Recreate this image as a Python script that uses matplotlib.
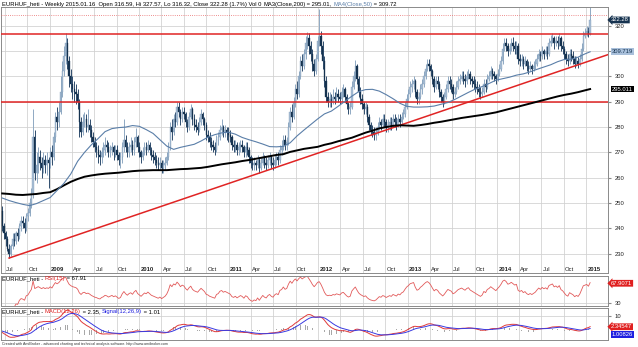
import numpy as np
import pandas as pd
import matplotlib
matplotlib.use("Agg")
import matplotlib.pyplot as plt
import matplotlib.dates as mdates
import matplotlib.transforms as mtransforms

plt.rcParams['font.family'] = ['Liberation Sans', 'DejaVu Sans']

W, H = 638, 347

# weekly EURHUF bars, first bar = week ending 2008-06-20, last = 2015-01-16
first_week = "2008-06-20"

opens = [
    247, 241, 238, 236, 232, 230, 233, 236, 235, 238, 237, 241, 243, 242, 240, 245, 246, 250, 254, 276, 262, 265, 268, 266, 264, 267, 265, 267,  # 2008
    266, 270, 268, 276, 284, 282, 286, 294, 302, 308, 313, 306, 300, 297, 295, 294, 293, 290, 282, 278, 282, 283, 280, 281, 279, 276,
    274, 272, 271, 269, 268, 270, 271, 273, 272, 270, 271, 272, 270, 271, 269, 267, 268, 272, 275, 272, 270, 272, 273, 271, 274, 276,  # 2009
    272, 270, 268, 270, 272, 271, 273, 271, 269, 268, 267, 266, 265, 266, 264, 265, 266, 268, 272, 280, 278, 283, 282, 288, 286, 283,
    286, 285, 282, 280, 284, 287, 283, 281, 280, 279, 282, 285, 283, 281, 277, 276, 274, 273, 272, 271, 275, 276, 279, 280, 278, 279, 278,  # 2010
    277, 276, 273, 272, 273, 271, 272, 273, 272, 270, 272, 271, 268, 266, 265, 266, 265, 267, 264, 266, 268, 266, 265, 267, 268, 266,
    265, 267, 268, 267, 271, 272, 275, 273, 274, 280, 286, 284, 290, 295, 293, 300, 306, 304, 309, 313, 315, 312, 309, 305, 302, 307,  # 2011
    314, 316, 312, 306, 298, 292, 290, 291, 290, 292, 291, 293, 292, 291, 294, 295, 292, 289, 287, 288, 296, 300, 304, 299, 294, 291,
    289, 287, 288, 284, 281, 279, 278, 277, 278, 280, 282, 281, 283, 282, 280, 281, 282, 281, 283, 282, 281, 283, 282, 284, 285, 288,  # 2012
    291, 293, 296, 297, 298, 294, 291, 292, 295, 297, 300, 303, 305, 304, 302, 299, 296, 298, 297, 294, 292, 290, 292, 295, 298, 297,
    296, 293, 294, 296, 298, 299, 300, 299, 298, 300, 301, 299, 298, 297, 296, 295, 294, 293, 294, 297, 296, 299, 300, 302, 301, 300,  # 2013
    299, 301, 303, 306, 311, 313, 312, 310, 311, 313, 312, 311, 312, 307, 306, 307, 305, 306, 304, 303, 304, 303, 304, 305, 307, 309,
    308, 310, 309, 310, 309, 313, 314, 315, 313, 314, 313, 315, 312, 311, 309, 307, 306, 309, 308, 307, 305, 306, 305, 307, 311, 316,  # 2014
    317, 318, 316.59,  # 2015
]
highs = [
    249, 242, 239, 237, 234, 234, 238, 238, 239, 240, 242, 245, 245, 244, 246, 248, 252, 256, 287, 279, 270, 272, 271, 268, 270, 269, 270, 268,
    272, 273, 278, 286, 288, 290, 300, 306, 312, 317.2, 315, 308, 303, 300, 298, 297, 295, 291, 284, 285, 286, 285, 287, 283, 281, 278,
    276, 274, 273, 271, 272, 274, 276, 275, 274, 273, 274, 273, 273, 273, 270, 270, 274, 283, 277, 274, 274, 276, 275, 276, 279.5, 277,
    274, 271, 272, 274, 274, 275, 274, 272, 271, 270, 269, 268, 268, 267, 267, 268, 270, 274, 282, 283, 285, 286, 290, 290, 287, 288,
    288, 286, 283, 286, 289, 288, 285, 283, 282, 284, 287, 286, 284, 282, 279, 278, 276, 275, 274, 277, 278, 281, 283, 281, 281, 280, 280,
    279, 277, 275, 275, 274, 274, 275, 275, 273, 274, 274, 272, 269, 268, 268, 267, 269, 268, 268, 270, 269, 268, 269, 270, 269, 268,
    269, 270, 270, 273, 275, 277, 277, 276, 282, 288, 289, 292, 297, 298, 302, 308, 309, 311, 316, 317.5, 317, 314, 311, 307, 309, 316,
    326.5, 318, 314, 308, 300, 294, 294, 293, 295, 294, 296, 295, 294, 296, 297, 296, 293, 290, 290, 298, 302, 306.5, 305, 300, 296, 293,
    290, 290, 289, 285, 282, 281, 280, 280, 282, 284, 283, 285, 285, 283, 283, 284, 284, 285, 285, 284, 285, 285, 286, 287, 290, 293,
    295, 298, 299, 300, 299, 295, 294, 297, 299, 302, 305, 307, 307, 305, 303, 300, 300, 300, 298, 295, 293, 294, 297, 300, 300, 299,
    297, 296, 298, 300, 301, 302, 302, 301, 302, 303, 302, 300, 300, 299, 298, 297, 296, 296, 299, 299, 301, 302, 304, 303.5, 302, 301,
    303, 305, 308, 313, 315, 315, 313, 313, 315, 315.5, 314, 314, 313, 309, 309, 308, 308, 307, 306, 306, 305, 306, 307, 309, 311, 310,
    312, 311, 312, 312, 315, 316.5, 317, 316, 316, 316, 317, 316, 314, 312, 310, 309, 311, 311, 310, 308, 308, 307.5, 309, 313, 318, 319,
    320, 319.5, 327.57,
]
lows = [
    239, 236, 233, 231, 228.3, 229, 232, 233, 234, 235, 236, 239, 240, 238, 239, 243, 245, 248, 252, 259, 258, 262, 263, 260, 262, 262, 261, 256,
    264, 265, 267, 274, 279, 280, 285, 292, 300, 305, 303, 296, 294, 291, 290, 289, 287, 276, 276, 277, 280, 278, 278, 276, 274, 272,
    270, 268, 266, 265, 266, 268, 269, 270, 268, 268, 269, 267, 268, 267, 265, 264, 266, 270, 270, 268, 268, 270, 269, 269, 272, 270,
    268, 266, 267, 269, 269, 270, 269, 267, 266, 265, 264, 263, 263, 262, 262, 263, 265, 267, 271, 275, 277, 280, 281, 284, 281, 282,
    283, 280, 278, 279, 283, 281, 279, 278, 277, 278, 281, 281, 279, 275, 274, 272, 271, 270, 269, 270, 273, 275, 277, 276, 276, 275, 274,
    274, 271, 270, 270, 269, 269, 270, 270, 268, 268, 269, 266, 264, 263, 263, 263, 264, 262, 263, 265, 264, 263, 264, 265, 264, 263,
    264, 265, 265, 266, 269, 271, 271, 271, 273, 279, 282, 283, 288, 291, 292, 299, 302, 303, 307, 311, 309, 306, 302, 300, 301, 306,
    312, 309, 303, 296, 290, 288, 288, 288, 289, 289, 290, 290, 289, 290, 292, 290, 287, 285, 285, 287, 295, 298, 297, 292, 289, 287,
    285, 285, 282, 279, 277, 276, 275, 275, 277, 279, 279, 280, 280, 278, 278, 279, 279, 280, 280, 279, 280, 280, 281, 283, 284, 287,
    290, 292, 294, 295, 292, 289, 289, 291, 293, 296, 299, 302, 302, 300, 297, 294, 295, 295, 292, 290, 288, 289, 291, 294, 295, 294,
    291, 292, 293, 295, 297, 298, 297, 296, 297, 299, 297, 296, 295, 294, 293, 292, 291, 292, 293, 294, 295, 298, 299, 299, 298, 297,
    298, 300, 302, 305, 310, 310, 308, 309, 310, 310, 309, 309, 305, 304, 304, 303, 304, 302, 301, 302, 301, 302, 303, 304, 306, 306,
    307, 307, 308, 307, 308, 312, 313, 311, 312, 311, 312, 310, 309, 307, 305, 304, 305, 306, 305, 303.5, 304, 303.5, 304, 306, 310, 315,
    316, 315.5, 316.32,
]
closes = [
    241, 238, 236, 232, 230, 233, 236, 235, 238, 237, 241, 243, 242, 240, 245, 246, 250, 254, 276, 262, 265, 268, 266, 264, 267, 265, 267, 266,
    270, 268, 276, 284, 282, 286, 294, 302, 308, 313, 306, 300, 297, 295, 294, 293, 290, 282, 278, 282, 283, 280, 281, 279, 276, 274,
    272, 271, 269, 268, 270, 271, 273, 272, 270, 271, 272, 270, 271, 269, 267, 268, 272, 275, 272, 270, 272, 273, 271, 274, 276, 272,
    270, 268, 270, 272, 271, 273, 271, 269, 268, 267, 266, 265, 266, 264, 265, 266, 268, 272, 280, 278, 283, 282, 288, 286, 283, 286,
    285, 282, 280, 284, 287, 283, 281, 280, 279, 282, 285, 283, 281, 277, 276, 274, 273, 272, 271, 275, 276, 279, 280, 278, 279, 278, 277,
    276, 273, 272, 273, 271, 272, 273, 272, 270, 272, 271, 268, 266, 265, 266, 265, 267, 264, 266, 268, 266, 265, 267, 268, 266, 265,
    267, 268, 267, 271, 272, 275, 273, 274, 280, 286, 284, 290, 295, 293, 300, 306, 304, 309, 313, 315, 312, 309, 305, 302, 307, 314,
    316, 312, 306, 298, 292, 290, 291, 290, 292, 291, 293, 292, 291, 294, 295, 292, 289, 287, 288, 296, 300, 304, 299, 294, 291, 289,
    287, 288, 284, 281, 279, 278, 277, 278, 280, 282, 281, 283, 282, 280, 281, 282, 281, 283, 282, 281, 283, 282, 284, 285, 288, 291,
    293, 296, 297, 298, 294, 291, 292, 295, 297, 300, 303, 305, 304, 302, 299, 296, 298, 297, 294, 292, 290, 292, 295, 298, 297, 296,
    293, 294, 296, 298, 299, 300, 299, 298, 300, 301, 299, 298, 297, 296, 295, 294, 293, 294, 297, 296, 299, 300, 302, 301, 300, 299,
    301, 303, 306, 311, 313, 312, 310, 311, 313, 312, 311, 312, 307, 306, 307, 305, 306, 304, 303, 304, 303, 304, 305, 307, 309, 308,
    310, 309, 310, 309, 313, 314, 315, 313, 314, 313, 315, 312, 311, 309, 307, 306, 309, 308, 307, 305, 306, 305, 307, 311, 316, 317,
    318, 316.59, 322.28,
]
# a few closes before the first bar (May-June 2008), only used to start RSI / MACD
warmup_closes = [253, 251, 254, 250, 248, 251, 249, 247]

# moving averages every 4th week (plus the last week)
ma_weeks = list(range(0, 344, 4)) + [343]
ma200 = [
    253.8, 253.6, 253.3, 253.2, 253.4, 253.6, 254.0, 254.3, 255.5, 257.0,
    258.4, 259.5, 260.4, 260.9, 261.3, 261.6, 261.8, 262.0, 262.3, 262.6,
    262.8, 262.9, 263.0, 263.0, 263.0, 263.2, 263.4, 263.5, 263.7, 263.9,
    264.3, 264.8, 265.3, 265.7, 266.1, 266.6, 267.0, 267.5, 268.0, 268.5,
    269.0, 269.3, 270.2, 270.8, 271.4, 271.8, 272.2, 273.0, 273.6, 274.4,
    275.1, 275.8, 276.8, 277.8, 278.6, 279.5, 280.0, 280.5, 280.7, 280.6,
    280.5, 280.8, 281.2, 281.7, 282.1, 282.6, 283.1, 283.6, 284.0, 284.4,
    284.8, 285.3, 285.8, 286.5, 287.2, 287.9, 288.6, 289.3, 290.0, 290.7,
    291.4, 292.1, 292.7, 293.2, 293.8, 294.5, 295.01,
]
ma50 = [
    252.0, 251.0, 250.2, 249.5, 249.0, 249.8, 251.0, 252.2, 255.0, 257.8,
    261.5, 266.5, 270.0, 273.0, 275.5, 278.2, 279.4, 279.8, 280.0, 280.6,
    280.3, 279.0, 277.5, 275.0, 272.5, 271.2, 272.0, 272.6, 273.2, 274.5,
    276.0, 277.0, 277.7, 278.0, 277.2, 275.9, 275.0, 274.2, 273.3, 272.3,
    272.2, 272.4, 273.8, 276.5, 278.8, 281.0, 283.2, 285.2, 286.3, 288.2,
    290.2, 292.2, 294.0, 294.8, 294.9, 294.2, 292.8, 291.2, 289.4, 288.2,
    287.9, 287.9, 288.0, 288.3, 289.0, 289.7, 290.9, 292.3, 293.7, 295.0,
    296.0, 297.2, 298.5, 299.1, 299.7, 300.5, 301.0, 301.8, 302.8, 303.7,
    304.6, 305.8, 306.7, 306.8, 307.6, 308.9, 309.72,
]

# hand-drawn lines on the chart
levels = [289.8, 316.7]
dotted_level = 324.2
trend_dates = ["2008-07-18", "2015-03-30"]
trend_prices = [228.3, 308.6]

RED = '#e02424'
NAVY = '#15324f'
STEEL = '#5a7ea8'
GRID = '#d0d0d0'
FRAME = '#8a8a8a'
FS = 4.2

weeks = pd.date_range(first_week, periods=len(closes), freq="7D")
xd = mdates.date2num(weeks)
o, h, l, c = (np.array(v, dtype=float) for v in (opens, highs, lows, closes))
up = c >= o

# indicators from the closes
s = pd.Series(warmup_closes + closes, dtype=float)
d = s.diff()
ag = d.clip(lower=0).ewm(alpha=1 / 15, adjust=False).mean()
al = (-d.clip(upper=0)).ewm(alpha=1 / 15, adjust=False).mean()
rsi = (100 - 100 / (1 + ag / al)).values[len(warmup_closes):]
macd = s.ewm(span=12, adjust=False).mean() - s.ewm(span=26, adjust=False).mean()
signal = macd.ewm(span=9, adjust=False).mean()
macd = macd.values[len(warmup_closes):]
signal = signal.values[len(warmup_closes):]


def pane(fig, top, bottom, left=1, right=608):
    a = fig.add_axes([left / W, 1 - bottom / H, (right - left) / W, (bottom - top) / H])
    for sp in a.spines.values():
        sp.set_color(FRAME)
        sp.set_linewidth(0.7)
    a.set_xlim(mdates.datestr2num("2008-06-15"), mdates.datestr2num("2015-03-30"))
    quarters = pd.date_range("2008-07-01", "2015-01-01", freq="QS")
    a.set_xticks(mdates.date2num(quarters))
    a.tick_params(axis='x', length=0, labelbottom=False)
    a.grid(True, color=GRID, lw=0.55)
    a.set_axisbelow(True)
    a.yaxis.tick_right()
    a.tick_params(axis='y', labelsize=FS, length=2, pad=3, color=FRAME, labelcolor='#222222')
    return a, quarters


def text_run(x_px, y_px, parts, size):
    # writes coloured pieces one after another on a line (y_px = baseline from top)
    r = fig.canvas.get_renderer()
    x = x_px
    for txt, col in parts:
        t = fig.text(x / W, 1 - y_px / H, txt, fontsize=size, color=col,
                     va='baseline', ha='left', zorder=10)
        x = t.get_window_extent(r).x1


def value_box(a, val, txt, fc, tc, dy=0, style='square,pad=0.15', dx=4):
    a.annotate(txt, xy=(1.0, val), xycoords=('axes fraction', 'data'),
               xytext=(dx, dy), textcoords='offset pixels', ha='left', va='center',
               fontsize=FS, color=tc, annotation_clip=False, zorder=10,
               bbox=dict(boxstyle=style, fc=fc, ec='none'))


fig = plt.figure(figsize=(W / 100, H / 100), dpi=100)
fig.patch.set_facecolor('white')

# ---- price pane
ax, quarters = pane(fig, 7, 273)
ax.set_ylim(222.4, 327.4)
yt = list(range(230, 321, 10))
ax.set_yticks(yt)
ax.set_yticklabels(['' if v == 310 else str(v) for v in yt])

ax.vlines(xd, l, h, colors=np.where(up, '#8fa9c3', '#2f4d6d'), lw=0.7, zorder=2)
ax.bar(xd, np.maximum(np.abs(c - o), 0.35), bottom=np.minimum(o, c), width=5.6,
       color=np.where(up, '#a7bdd4', NAVY), edgecolor=np.where(up, '#7f9bb8', NAVY),
       lw=0.25, zorder=3)

for lv in levels:
    ax.axhline(lv, color=RED, lw=1.1, zorder=4)
ax.axhline(dotted_level, color='#e86a6a', lw=0.6, ls=(0, (1, 1.6)), zorder=4)
ax.plot(pd.to_datetime(trend_dates), trend_prices, color=RED, lw=1.1, zorder=4)
ax.plot(weeks[ma_weeks], ma200, color='black', lw=1.4, zorder=5)
ax.plot(weeks[ma_weeks], ma50, color=STEEL, lw=0.8, zorder=5)

lab_tr = mtransforms.blended_transform_factory(ax.transData, ax.transAxes)
for q in quarters:
    yr = q.month == 1
    ax.text(mdates.date2num(q) + 5, 0.014, str(q.year) if yr else q.strftime('%b'),
            transform=lab_tr, fontsize=FS, fontweight='bold' if yr else 'normal',
            ha='left', va='center', color='#222222')

value_box(ax, 322.28, '322.28', NAVY, 'white', style='larrow,pad=0.15', dx=3)
value_box(ax, 309.719, '309.719', '#a9c0db', NAVY)
value_box(ax, 295.011, '295.011', 'black', 'white')

# ---- RSI pane
ax_rsi, _ = pane(fig, 276, 306)
ax_rsi.set_ylim(24.2, 81.9)
ax_rsi.set_yticks([30])
ax_rsi.plot(weeks, rsi, color='#e25a5a', lw=0.6)
value_box(ax_rsi, 67.9071, '67.9071', '#e02020', 'white', style='larrow,pad=0.15', dx=3)

# ---- MACD pane
ax_macd, _ = pane(fig, 308, 340)
ax_macd.set_ylim(-7.1, 15.7)
ax_macd.set_yticks([10])
ax_macd.bar(xd, macd - signal, width=1.6, color='#a8a8a8', lw=0)
ax_macd.plot(weeks, macd, color='#e03a3a', lw=0.7)
ax_macd.plot(weeks, signal, color='#3a3ae0', lw=0.7)
value_box(ax_macd, 2.34547, '2.34547', '#e02020', 'white', style='larrow,pad=0.15', dx=3)
value_box(ax_macd, 1.00826, '1.00826', '#2020e0', 'white', dy=-6)

# ---- titles
text_run(2, 5.6, [("EURHUF_heti - Weekly 2015.01.16  Open 316.59, Hi 327.57, Lo 316.32, Close 322.28 (1.7%) Vol 0 ", 'black'),
                  ("MA3(Close,200)", 'black'), (" = 295.01, ", 'black'),
                  ("MA4(Close,50)", STEEL), (" = 309.72", 'black')], FS)
text_run(2, 280.3, [("EURHUF_heti - ", 'black'), ("RSI(15)", '#e02020'), (" = 67.91", 'black')], FS)
text_run(2, 313.5, [("EURHUF_heti - ", 'black'), ("MACD(12,26)", '#e02020'), (" = 2.35, ", 'black'),
                    ("Signal(12,26,9)", '#2020e0'), (" = 1.01", 'black')], FS)

fig.text(2 / W, 1 - 344 / H,
         "Created with AmiBroker - advanced charting and technical analysis software. http://www.amibroker.com",
         fontsize=2.6, va='center', ha='left', color='#333333')

fig.savefig("out.png", dpi=100)
